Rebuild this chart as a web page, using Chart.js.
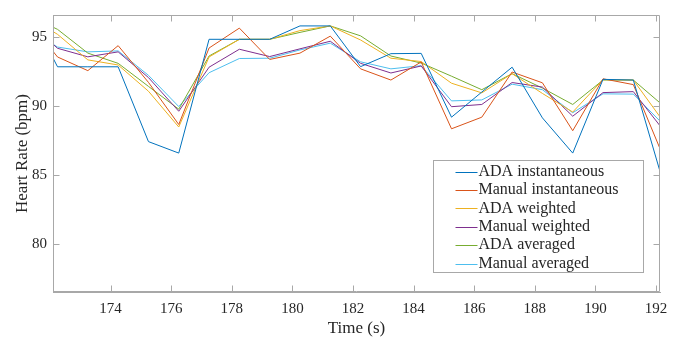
<!DOCTYPE html>
<html>
<head>
<meta charset="utf-8">
<title>Heart rate</title>
<script src="https://cdn.jsdelivr.net/npm/chart.js@4.4.1/dist/chart.umd.min.js"></script>
<style>
  html, body { margin: 0; padding: 0; background: #fff; }
  canvas { display: block; }
</style>
</head>
<body>
<canvas id="hr" width="696" height="341"></canvas>
<script>
// sample times (s), one per beat window
const times = [171.25, 172.25, 173.25, 174.25, 175.25, 176.25, 177.25, 178.25, 179.25, 180.25, 181.25,
               182.25, 183.25, 184.25, 185.25, 186.25, 187.25, 188.25, 189.25, 190.25, 191.25, 192.25];

const adaInstantaneous    = [97.06, 92.83, 92.83, 92.83, 87.41, 86.58, 94.82, 94.82, 94.82, 95.79, 95.79,
                             92.84, 93.78, 93.80, 89.18, 91.00, 92.80, 89.13, 86.58, 91.92, 91.87, 84.35];
const manualInstantaneous = [96.27, 93.54, 92.55, 94.36, 91.70, 88.65, 94.19, 95.63, 93.36, 93.82, 95.05,
                             92.68, 91.87, 93.18, 88.34, 89.18, 92.45, 91.67, 88.20, 91.96, 91.54, 86.27];
const adaWeighted         = [96.50, 95.18, 93.33, 92.96, 91.06, 88.47, 93.54, 94.82, 94.82, 95.45, 95.79,
                             94.77, 93.45, 93.21, 91.64, 90.94, 92.33, 90.90, 89.55, 91.90, 91.87, 88.84];
const manualWeighted      = [96.12, 94.17, 93.55, 93.91, 92.05, 89.61, 92.80, 94.10, 93.57, 94.13, 94.68,
                             93.08, 92.38, 92.89, 89.94, 90.10, 91.69, 91.36, 89.25, 90.96, 91.03, 88.22];
const adaAveraged         = [96.58, 95.54, 93.82, 93.08, 91.41, 89.76, 93.61, 94.82, 94.82, 95.32, 95.79,
                             95.07, 93.61, 93.10, 92.15, 91.17, 92.33, 91.29, 90.10, 91.87, 91.87, 89.99];
const manualAveraged      = [95.62, 94.26, 93.91, 93.98, 92.21, 89.95, 92.40, 93.43, 93.45, 94.05, 94.54,
                             93.19, 92.68, 92.91, 90.36, 90.43, 91.57, 91.17, 89.50, 90.87, 90.85, 88.63];

const seriesNames = ['ADA instantaneous', 'Manual instantaneous', 'ADA weighted',
                     'Manual weighted', 'ADA averaged', 'Manual averaged'];
const seriesValues = [adaInstantaneous, manualInstantaneous, adaWeighted,
                      manualWeighted, adaAveraged, manualAveraged];
const seriesColors = ['#0072BD', '#D95319', '#EDB120', '#7E2F8E', '#77AC30', '#4DBEEE'];

const xTicks = [174, 176, 178, 180, 182, 184, 186, 188, 190, 192];
const yTicks = [80, 85, 90, 95];
const xRange = [172.1, 192.13];
const yRange = [76.52, 96.58];

const AXIS = '#a8a8a8';
const TEXT = '#262626';
const SERIF = '"Liberation Serif", "Times New Roman", serif';

// closed box with inward tick marks on all four sides
const boxTicks = {
  id: 'boxTicks',
  afterDatasetsDraw(chart) {
    const { ctx, chartArea: a, scales: { x, y } } = chart;
    const len = 6;
    const L = Math.round(a.left) + 0.5, R = Math.round(a.right) - 0.5;
    const T = Math.round(a.top) + 0.5, B = Math.round(a.bottom) - 0.5;
    ctx.save();
    ctx.strokeStyle = AXIS;
    ctx.lineWidth = 1;
    ctx.beginPath();
    ctx.moveTo(L, T); ctx.lineTo(R, T); ctx.lineTo(R, B); ctx.lineTo(L, B); ctx.closePath();
    xTicks.forEach(v => {
      const px = Math.round(x.getPixelForValue(v)) + 0.5;
      ctx.moveTo(px, B); ctx.lineTo(px, B - len);
      ctx.moveTo(px, T); ctx.lineTo(px, T + len);
    });
    yTicks.forEach(v => {
      const py = Math.round(y.getPixelForValue(v)) + 0.5;
      ctx.moveTo(L, py); ctx.lineTo(L + len, py);
      ctx.moveTo(R, py); ctx.lineTo(R - len, py);
    });
    ctx.stroke();
    ctx.restore();
  }
};

// legend box in the lower right corner of the plot
const boxLegend = {
  id: 'boxLegend',
  afterDatasetsDraw(chart) {
    const { ctx, chartArea: a } = chart;
    const w = 210, h = 112, row = 18.4;
    const left = Math.round(a.right - 17 - w) + 0.5;
    const top = Math.round(a.bottom - 20 - h) + 0.5;
    ctx.save();
    ctx.fillStyle = '#fff';
    ctx.fillRect(left, top, w, h);
    ctx.strokeStyle = AXIS;
    ctx.lineWidth = 1;
    ctx.strokeRect(left, top, w, h);
    ctx.font = '16px ' + SERIF;
    ctx.textBaseline = 'middle';
    ctx.textAlign = 'left';
    chart.data.datasets.forEach((ds, i) => {
      const cy = top + 11 + i * row;
      ctx.strokeStyle = ds.borderColor;
      ctx.beginPath();
      ctx.moveTo(left + 22, Math.round(cy) + 0.5);
      ctx.lineTo(left + 44, Math.round(cy) + 0.5);
      ctx.stroke();
      ctx.fillStyle = TEXT;
      ctx.fillText(ds.label, left + 45, cy);
    });
    ctx.restore();
  }
};

new Chart(document.getElementById('hr'), {
  type: 'line',
  data: {
    datasets: seriesNames.map((name, i) => ({
      label: name,
      data: times.map((t, j) => ({ x: t, y: seriesValues[i][j] })),
      borderColor: seriesColors[i],
      borderWidth: 1,
      pointRadius: 0,
      tension: 0,
      fill: false,
      clip: 0
    }))
  },
  options: {
    responsive: false,
    animation: false,
    layout: { padding: { top: 4, right: 36, left: 0, bottom: 0 } },
    plugins: { legend: { display: false }, tooltip: { enabled: false } },
    scales: {
      x: {
        type: 'linear',
        min: xRange[0],
        max: xRange[1],
        afterBuildTicks: s => { s.ticks = xTicks.map(v => ({ value: v })); },
        afterFit: s => { s.height = 49; },
        grid: { display: false, drawTicks: false, tickLength: 0 },
        border: { display: true, color: AXIS, width: 1 },
        ticks: { color: TEXT, padding: 8, font: { family: SERIF, size: 15 }, maxRotation: 0 },
        title: { display: true, text: 'Time (s)', color: TEXT,
                 font: { family: SERIF, size: 17 }, padding: { top: 0, bottom: 2 } }
      },
      y: {
        min: yRange[0],
        max: yRange[1],
        afterBuildTicks: s => { s.ticks = yTicks.map(v => ({ value: v })); },
        afterFit: s => { s.width = 53; },
        grid: { display: false, drawTicks: false, tickLength: 0 },
        border: { display: true, color: AXIS, width: 1 },
        ticks: { color: TEXT, padding: 6, font: { family: SERIF, size: 15 } },
        title: { display: true, text: 'Heart Rate (bpm)', color: TEXT,
                 font: { family: SERIF, size: 17 }, padding: { top: 12, bottom: 0 } }
      }
    }
  },
  plugins: [boxTicks, boxLegend]
});
</script>
</body>
</html>
